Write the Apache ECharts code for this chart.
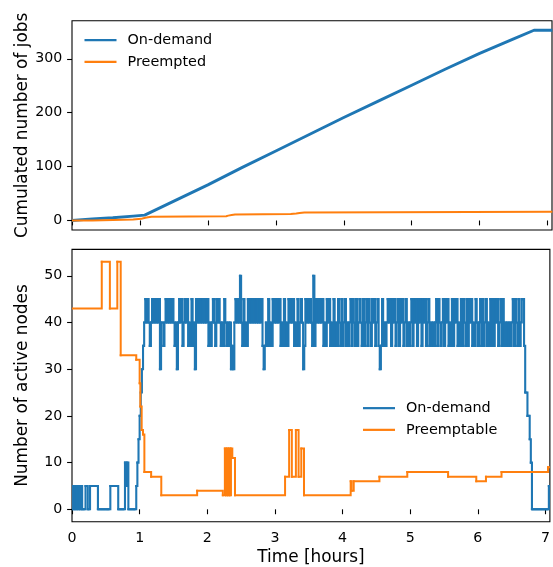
<!DOCTYPE html>
<html>
<head>
<meta charset="utf-8">
<script src="https://cdn.jsdelivr.net/npm/echarts@6/dist/echarts.min.js"></script>
<style>
  html, body { margin: 0; padding: 0; background: #fff; }
  #chart { width: 553px; height: 567px; }
</style>
</head>
<body>
<div id="chart"></div>
<script>
// ---- Data ----------------------------------------------------------------
// Cumulated number of jobs (hours, count)
const cumOnDemandT = [0, 0.3, 0.6, 0.9, 1.07, 1.5, 2, 2.5, 3, 3.5, 4, 4.5, 5, 5.5, 6, 6.5, 6.8, 7.07];
const cumOnDemandV = [0, 3, 5, 8, 10, 36, 66, 98, 129, 160, 191, 221, 251, 281, 310, 337, 353, 353];

const cumPreemptedT = [0, 0.3, 0.6, 0.9, 1.02, 1.05, 1.08, 1.12, 1.17, 2.27, 2.3, 2.35, 2.4, 3.22, 3.3, 3.35, 3.42, 7.07];
const cumPreemptedV = [0, 1, 2, 3, 4, 5, 6, 7, 8, 9, 10, 11, 12, 13, 14, 15, 16, 16];

// Active on-demand nodes, one sample per minute
const onDemandNodes = [
  5, 0, 5, 0, 5, 0, 5, 0, 5, 0,
  0, 0, 5, 5, 0, 0, 5, 5, 5, 5,
  5, 5, 5, 0, 0, 0, 0, 0, 0, 0,
  0, 0, 0, 0, 5, 5, 5, 5, 5, 5,
  5, 0, 0, 0, 0, 0, 0, 10, 5, 10,
  0, 0, 0, 0, 0, 0, 0, 5, 10, 15,
  20, 25, 30, 35, 40, 45, 40, 45, 40, 35,
  40, 45, 40, 45, 40, 45, 40, 45, 30, 40,
  40, 35, 40, 45, 40, 45, 40, 45, 40, 45,
  40, 35, 40, 30, 40, 45, 40, 45, 35, 40,
  45, 40, 45, 35, 40, 35, 45, 35, 40, 30,
  45, 40, 45, 40, 45, 40, 45, 40, 45, 40,
  45, 35, 40, 35, 40, 45, 40, 35, 45, 40,
  45, 40, 35, 40, 35, 45, 40, 35, 40, 35,
  40, 30, 35, 30, 40, 45, 40, 45, 40, 50,
  40, 35, 45, 35, 40, 35, 45, 40, 45, 40,
  45, 40, 45, 40, 45, 40, 45, 40, 45, 35,
  30, 35, 40, 35, 45, 35, 40, 35, 45, 40,
  45, 40, 45, 40, 45, 35, 40, 35, 45, 35,
  40, 35, 45, 40, 45, 40, 45, 35, 40, 35,
  45, 35, 40, 45, 40, 30, 35, 45, 40, 45,
  40, 45, 40, 35, 50, 35, 45, 40, 45, 40,
  45, 40, 45, 35, 40, 35, 45, 40, 45, 35,
  40, 35, 45, 35, 40, 35, 45, 40, 35, 45,
  35, 40, 45, 35, 40, 35, 40, 45, 35, 45,
  40, 35, 45, 35, 40, 45, 40, 35, 45, 35,
  40, 45, 35, 45, 40, 35, 45, 40, 45, 35,
  40, 45, 35, 30, 35, 45, 35, 40, 35, 40,
  45, 40, 45, 35, 45, 40, 45, 35, 40, 45,
  35, 45, 40, 45, 35, 40, 45, 35, 40, 35,
  40, 45, 35, 45, 40, 45, 35, 45, 40, 45,
  35, 45, 40, 45, 35, 40, 45, 35, 40, 35,
  40, 35, 40, 45, 35, 45, 40, 35, 40, 45,
  35, 45, 40, 45, 35, 40, 35, 45, 35, 45,
  40, 45, 35, 40, 35, 45, 35, 45, 40, 35,
  45, 35, 45, 40, 45, 35, 40, 35, 45, 40,
  35, 40, 45, 35, 45, 35, 40, 45, 35, 40,
  35, 45, 35, 45, 35, 45, 40, 45, 35, 40,
  45, 35, 45, 35, 40, 35, 40, 35, 40, 35,
  40, 45, 35, 45, 40, 35, 45, 35, 40, 45,
  45, 35, 25, 25, 20, 20, 15, 10, 0, 0,
  0, 0, 0, 0, 0, 0, 0, 0, 0, 0,
  0, 0, 0, 5, 5, 5
];

// Active preemptable nodes: value holds from each change time onwards
const preemptT = [0, 0.44, 0.56, 0.67, 0.72, 0.95, 1.0, 1.01, 1.03, 1.05, 1.07, 1.17, 1.32, 1.85,
  2.23, 2.26, 2.275, 2.29, 2.305, 2.32, 2.335, 2.35, 2.37, 2.41,
  3.15, 3.21, 3.25, 3.31, 3.35, 3.39, 3.43,
  4.12, 4.135, 4.165, 4.545, 4.957, 5.56, 5.977, 6.12, 6.35, 7.037, 7.07];
const preemptV = [43, 53, 43, 53, 33, 32, 27, 22, 17, 16, 8, 7, 3, 4,
  3, 13, 3, 13, 3, 13, 3, 13, 11, 3,
  7, 17, 7, 17, 7, 13, 3,
  6, 4, 6, 7, 8, 7, 6, 7, 8, 9, 9];

const hourTicks = [0, 1, 2, 3, 4, 5, 6, 7];
const jobTicks = [0, 100, 200, 300];
const nodeTicks = [0, 10, 20, 30, 40, 50];

// ---- Helpers -------------------------------------------------------------
const zip = (xs, ys) => xs.map((x, i) => [x, ys[i]]);
const minuteTimes = onDemandNodes.map((v, i) => i / 60);

// One record per step: [t0, v0, t1, v1] -> horizontal at v0 until t1, then vertical to v1
function stepRecords(ts, vs) {
  const out = [];
  for (let i = 0; i < ts.length - 1; i++) out.push([ts[i], vs[i], ts[i + 1], vs[i + 1]]);
  return out;
}

function stepRenderer(color, width) {
  return function (params, api) {
    const a = api.coord([api.value(0), api.value(1)]);
    const b = api.coord([api.value(2), api.value(1)]);
    const c = api.coord([api.value(2), api.value(3)]);
    return {
      type: 'polyline',
      shape: { points: [a, b, c] },
      style: { stroke: color, lineWidth: width, fill: null, lineJoin: 'miter', lineCap: 'square' },
      silent: true
    };
  };
}

const BLUE = '#1f77b4';
const ORANGE = '#ff7f0e';
const FONT = 'DejaVu Sans';
const TICK_FS = 14.2;
const LEGEND_FS = 14.4;
const LABEL_FS = 16.9;

function xAxisCfg(gridIndex, showLabels) {
  return {
    type: 'value', gridIndex, min: 0, max: 7.065,
    axisLine: { show: false },
    splitLine: { show: false },
    axisTick: { show: true, inside: false, length: 4.9, customValues: hourTicks,
      lineStyle: { color: '#000', width: 1.1 } },
    axisLabel: { show: showLabels, customValues: hourTicks, margin: 9.5,
      color: '#000', fontFamily: FONT, fontSize: TICK_FS },
    name: showLabels ? 'Time [hours]' : '',
    nameLocation: 'middle', nameGap: 27, nameMoveOverlap: false,
    nameTextStyle: { color: '#000', fontFamily: FONT, fontSize: LABEL_FS }
  };
}

function yAxisCfg(gridIndex, min, max, ticks, name) {
  return {
    type: 'value', gridIndex, min, max,
    axisLine: { show: false },
    splitLine: { show: false },
    axisTick: { show: true, inside: false, length: 4.9, customValues: ticks,
      lineStyle: { color: '#000', width: 1.1 } },
    axisLabel: { customValues: ticks, margin: 9.7, color: '#000',
      fontFamily: FONT, fontSize: TICK_FS },
    name, nameLocation: 'middle', nameGap: 41, nameMoveOverlap: false,
    nameTextStyle: { color: '#000', fontFamily: FONT, fontSize: LABEL_FS }
  };
}

function legendCfg(left, top, names) {
  return {
    orient: 'vertical', left, top, padding: 0,
    data: names, icon: 'rect', itemWidth: 32, itemHeight: 2.2,
    itemGap: 7.4, itemTextGap: 11, selectedMode: false,
    textStyle: { color: '#000', fontFamily: FONT, fontSize: LEGEND_FS, lineHeight: 14.3,
      padding: [0, 0, 0, 6] }
  };
}

const chart = echarts.init(document.getElementById('chart'), null, { renderer: 'canvas' });

chart.setOption({
  animation: false,
  backgroundColor: '#fff',
  grid: [
    { left: 72, width: 480, top: 20.7, height: 209.3, show: true,
      borderColor: '#000', borderWidth: 1.1, backgroundColor: 'transparent' },
    { left: 72, width: 480, top: 249.4, height: 272.3, show: true,
      borderColor: '#000', borderWidth: 1.1, backgroundColor: 'transparent' }
  ],
  xAxis: [xAxisCfg(0, false), xAxisCfg(1, true)],
  yAxis: [
    yAxisCfg(0, -17.65, 370.65, jobTicks, 'Cumulated number of jobs'),
    yAxisCfg(1, -2.65, 55.65, nodeTicks, 'Number of active nodes')
  ],
  legend: [
    legendCfg(84.5, 33, ['On-demand', 'Preempted']),
    legendCfg(363, 401, ['On-demand', 'Preemptable'])
  ],
  series: [
    { name: 'On-demand', type: 'line', xAxisIndex: 0, yAxisIndex: 0,
      data: zip(cumOnDemandT, cumOnDemandV), showSymbol: false, symbol: 'none',
      color: BLUE, lineStyle: { color: BLUE, width: 2.9, join: 'round' } },
    { name: 'Preempted', type: 'line', xAxisIndex: 0, yAxisIndex: 0,
      data: zip(cumPreemptedT, cumPreemptedV), step: 'end', showSymbol: false, symbol: 'none',
      color: ORANGE, lineStyle: { color: ORANGE, width: 2, join: 'round' } },
    { name: 'On-demand', type: 'custom', xAxisIndex: 1, yAxisIndex: 1,
      data: stepRecords(minuteTimes, onDemandNodes), encode: { x: [0, 2], y: [1, 3] },
      renderItem: stepRenderer(BLUE, 2.1), clip: true,
      color: BLUE, itemStyle: { color: BLUE } },
    { name: 'Preemptable', type: 'custom', xAxisIndex: 1, yAxisIndex: 1,
      data: stepRecords(preemptT, preemptV), encode: { x: [0, 2], y: [1, 3] },
      renderItem: stepRenderer(ORANGE, 2.0), clip: true,
      color: ORANGE, itemStyle: { color: ORANGE } }
  ]
});
</script>
</body>
</html>
